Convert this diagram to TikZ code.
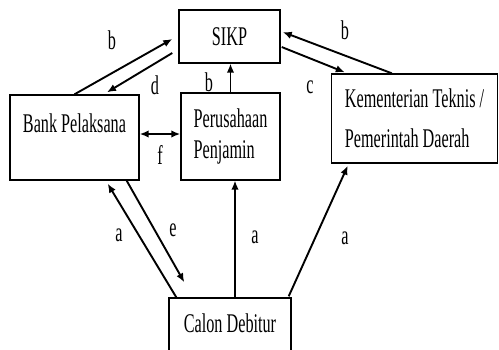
\documentclass[tikz,border=0pt]{standalone}
\usepackage{fontspec}
\setmainfont{Liberation Serif}[FakeStretch=0.6]
\usetikzlibrary{positioning, arrows.meta, calc}

\begin{document}
\begin{tikzpicture}[x=1pt, y=-1pt,
    kotak/.style={rectangle, draw, line width=1.4pt, inner sep=0pt, font=\fontsize{27}{31}\selectfont},
    panah/.style={-{Latex[length=9pt, width=7.5pt]}, line width=1.9pt},
    huruf/.style={inner sep=0pt, font=\fontsize{27}{31}\selectfont}]

    \useasboundingbox (0,0) rectangle (499,349);
    \clip (0,0) rectangle (499,349);

    % === KOTAK ===
    \node[kotak, minimum width=101pt, minimum height=53pt] (sikp) at (229.5, 36.5) {SIKP};
    \node[kotak, minimum width=129pt, minimum height=85pt, text depth=29pt] (bank) at (74.5, 137.5) {Bank Pelaksana};
    \node[kotak, minimum width=99pt, minimum height=87pt, align=left] (peru) at (230.5, 136.5) {Perusahaan\\Penjamin};
    \node[kotak, minimum width=166pt, minimum height=89pt, align=left] (kem) at (414.5, 118.5) {Kementerian Teknis /\\[9pt]Pemerintah Daerah};
    \node[kotak, minimum width=122pt, minimum height=62pt, text depth=12pt] (calon) at (230, 329) {Calon Debitur};

    % === PANAH KE SIKP ===
    \draw[panah] (bank.north) -- ($(sikp.west)+(-6,2.5)$);
    \draw[panah] ($(sikp.west)+(-6,16.5)$) -- ($(bank.north)+(32.5,-2)$);
    \draw[panah, line width=1.5pt] (peru.north) -- (peru.north |- sikp.south);
    \draw[panah] ($(kem.north west)+(61,0)$) -- ($(sikp.east)+(2,-4.5)$);
    \draw[panah] ($(sikp.east)+(1,10.5)$) -- ($(kem.north west)+(14,-1)$);

    % === BANK -- PENJAMIN ===
    \draw[panah, {Latex[length=9pt, width=7.5pt]}-{Latex[length=9pt, width=7.5pt]}] ($(bank.east)+(0,-3.5)$) -- ($(peru.west)+(0,-2.5)$);

    % === DARI CALON DEBITUR ===
    \draw[panah] ($(calon.north west)+(8,0)$) -- ($(bank.south east)+(-32,3)$);
    \draw[panah] ($(bank.south east)+(-13,0)$) -- ($(calon.north west)+(16,-15)$);
    \draw[panah, line width=1.5pt] ($(calon.north)+(5,0)$) -- ($(peru.south)+(4.5,0)$);
    \draw[panah] ($(calon.north east)+(-3,-1)$) -- ($(kem.south west)+(17,2)$);

    % === LABEL ===
    \node[huruf] (lb1) at (112, 40) {b};
    \node[huruf] (ld) at (155, 85) {d};
    \node[huruf] (lb2) at (209, 82) {b};
    \node[huruf] (lc) at (310, 87) {c};
    \node[huruf] (lb3) at (345, 30) {b};
    \node[huruf] (lf) at (160, 155) {f};
    \node[huruf] (la1) at (119, 235) {a};
    \node[huruf] (le) at (173, 230) {e};
    \node[huruf] (la2) at (255, 237) {a};
    \node[huruf] (la3) at (345, 238) {a};

\end{tikzpicture}
\end{document}
